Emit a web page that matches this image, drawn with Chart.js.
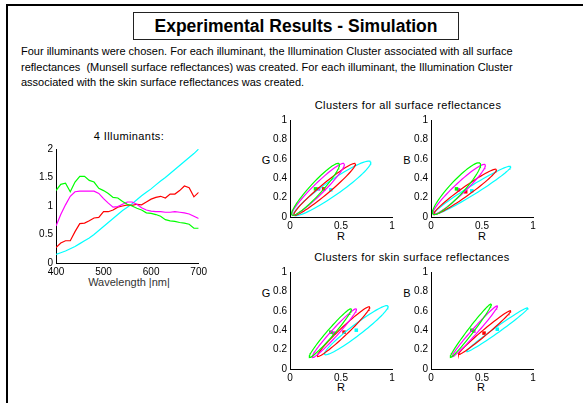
<!DOCTYPE html>
<html>
<head>
<meta charset="utf-8">
<script src="https://cdn.jsdelivr.net/npm/chart.js@4.4.1/dist/chart.umd.min.js"></script>
<style>
  body { margin: 0; width: 583px; height: 403px; position: relative; overflow: hidden; background: #fff;
         font-family: "Liberation Sans", Arial, sans-serif; color: #000; }
  .abs { position: absolute; }
  .lbl { position: absolute; font-size: 11px; white-space: nowrap; transform: translate(-50%, -50%); }
  canvas { position: absolute; }
</style>
</head>
<body>
<div class="abs" style="left:6px;top:4px;width:577px;height:2px;background:#000"></div>
<div class="abs" style="left:6px;top:4px;width:2px;height:399px;background:#000"></div>

<div class="abs" style="left:133px;top:12px;width:324px;height:26px;border:1px solid #222;
     font-weight:bold;font-size:17.5px;text-align:center;line-height:26px">Experimental Results - Simulation</div>

<div class="abs" style="left:21px;top:44px;font-size:11px;line-height:15.5px;white-space:nowrap">
Four illuminants were chosen. For each illuminant, the Illumination Cluster associated with all surface<br>
reflectances&nbsp; (Munsell surface reflectances) was created. For each illuminant, the Illumination Cluster<br>
associated with the skin surface reflectances was created.
</div>

<div class="lbl" style="left:129px;top:136px;letter-spacing:0.4px">4 Illuminants:</div>
<div class="lbl" style="left:129px;top:282px;color:#333">Wavelength |nm|</div>

<div class="lbl" style="left:408px;top:105px;letter-spacing:0.4px">Clusters for all surface reflectances</div>
<div class="lbl" style="left:412px;top:257px;letter-spacing:0.4px">Clusters for skin surface reflectances</div>

<div class="lbl" style="left:266px;top:160px">G</div>
<div class="lbl" style="left:407px;top:160px">B</div>
<div class="lbl" style="left:341px;top:236px">R</div>
<div class="lbl" style="left:482px;top:236px">R</div>
<div class="lbl" style="left:266px;top:293px">G</div>
<div class="lbl" style="left:407px;top:293px">B</div>
<div class="lbl" style="left:341px;top:387px">R</div>
<div class="lbl" style="left:481px;top:387px">R</div>

<canvas id="spectra" width="180" height="137" style="left:30px;top:140px"></canvas>
<canvas id="allRG" width="136" height="120" style="left:266px;top:111px"></canvas>
<canvas id="allRB" width="136" height="120" style="left:407px;top:111px"></canvas>
<canvas id="skinRG" width="136" height="120" style="left:266px;top:263px"></canvas>
<canvas id="skinRB" width="136" height="120" style="left:407px;top:263px"></canvas>

<script>
// illuminant spectra, 400..700 nm
var wavelengths = [400,410,420,430,440,450,460,470,480,490,500,510,520,530,540,550,560,570,580,590,600,610,620,630,640,650,660,670,680,690,700];
var greenIllum = [1.27,1.38,1.40,1.25,1.42,1.52,1.52,1.45,1.42,1.31,1.27,1.22,1.15,1.14,1.08,1.03,1.00,0.96,0.93,0.88,0.87,0.85,0.82,0.76,0.74,0.73,0.71,0.70,0.68,0.61,0.61];
var magentaIllum = [0.65,0.85,1.02,1.17,1.25,1.26,1.26,1.26,1.26,1.22,1.13,1.05,0.98,0.99,1.03,1.07,1.07,1.03,0.97,0.93,0.91,0.90,0.90,0.89,0.89,0.90,0.89,0.88,0.86,0.82,0.78];
var redIllum = [0.27,0.35,0.39,0.39,0.55,0.69,0.70,0.74,0.79,0.80,0.90,0.90,0.93,0.98,1.00,1.02,1.01,1.03,1.02,1.07,1.12,1.15,1.17,1.14,1.21,1.21,1.27,1.35,1.32,1.16,1.24];
var cyanIllum = [0.15,0.18,0.21,0.25,0.29,0.34,0.39,0.44,0.50,0.57,0.64,0.71,0.78,0.85,0.92,0.98,1.04,1.11,1.18,1.24,1.30,1.37,1.44,1.50,1.57,1.64,1.71,1.78,1.85,1.92,2.00];

var colors = ['#00ff00', '#ff00ff', '#ff0000', '#00ffff'];

// cluster ellipses: [x1, y1, x2, y2, halfWidth] (ends of the long axis), order green, magenta, red, cyan
var allRG = [[0.02,0.02,0.48,0.55,0.06],[0.02,0.02,0.53,0.55,0.055],[0.04,0.02,0.64,0.55,0.05],[0.04,0.02,0.79,0.57,0.075]];
var allRGCentres = [[0.25,0.29],[0.28,0.29],[0.33,0.29],[0.40,0.28]];
var allRB = [[0.02,0.03,0.48,0.555,0.07],[0.02,0.03,0.53,0.54,0.055],[0.03,0.03,0.64,0.49,0.045],[0.03,0.03,0.78,0.52,0.045]];
var allRBCentres = [[0.25,0.29],[0.27,0.28],[0.34,0.26],[0.40,0.27]];
var skinRG = [[0.19,0.12,0.60,0.62,0.035],[0.22,0.12,0.65,0.62,0.035],[0.27,0.13,0.78,0.64,0.04],[0.34,0.15,0.96,0.65,0.055]];
var skinRGCentres = [[0.40,0.38],[0.43,0.37],[0.53,0.38],[0.65,0.40]];
var skinRB = [[0.19,0.12,0.59,0.67,0.028],[0.21,0.13,0.65,0.65,0.028],[0.27,0.15,0.78,0.60,0.028],[0.35,0.18,0.95,0.63,0.028]];
var skinRBCentres = [[0.40,0.40],[0.42,0.39],[0.52,0.37],[0.65,0.41]];

Chart.defaults.font.family = '"Liberation Sans", Arial, sans-serif';
Chart.defaults.font.size = 10;
Chart.defaults.color = '#000';

function axis(min, max, step, fitKey, fitVal) {
    return {
        type: 'linear', min: min, max: max,
        ticks: { stepSize: step, padding: 3, color: '#000', maxRotation: 0, minRotation: 0, autoSkip: false,
                 callback: function (v) { return String(Math.round(v * 100) / 100); } },
        grid: { display: false, drawTicks: false, tickLength: 0 },
        border: { display: true, color: '#000', width: 1 },
        afterFit: function (s) { s[fitKey] = fitVal; }
    };
}

function toPoints(ys) {
    return wavelengths.map(function (w, i) { return { x: w, y: ys[i] }; });
}

// 4 Illuminants
new Chart(document.getElementById('spectra'), {
    type: 'line',
    data: {
        datasets: [greenIllum, magentaIllum, redIllum, cyanIllum].map(function (ys, i) {
            return { data: toPoints(ys), borderColor: colors[i], borderWidth: 1.2, pointRadius: 0, tension: 0 };
        })
    },
    options: {
        responsive: false, animation: false,
        layout: { padding: { top: 7, right: 9, left: 0, bottom: 0 } },
        plugins: { legend: { display: false }, tooltip: { enabled: false } },
        scales: {
            x: axis(400, 700, 100, 'height', 14),
            y: axis(0, 2, 0.5, 'width', 26)
        }
    }
});

function ellipsePoints(e) {
    var cx = (e[0] + e[2]) / 2, cy = (e[1] + e[3]) / 2;
    var dx = (e[2] - e[0]) / 2, dy = (e[3] - e[1]) / 2;
    var a = Math.sqrt(dx * dx + dy * dy);
    var ux = dx / a, uy = dy / a;
    var pts = [];
    for (var k = 0; k <= 72; k++) {
        var t = k / 72 * 2 * Math.PI;
        var c = Math.cos(t) * a, s = Math.sin(t) * e[4];
        pts.push({ x: cx + c * ux - s * uy, y: cy + c * uy + s * ux });
    }
    return pts;
}

function makeCluster(id, ellipses, centres) {
    var sets = ellipses.map(function (e, i) {
        return { data: ellipsePoints(e), showLine: true, borderColor: colors[i], borderWidth: 1.2,
                 pointRadius: 0, tension: 0, fill: false };
    });
    centres.forEach(function (c, i) {
        sets.push({ data: [{ x: c[0], y: c[1] }], pointStyle: 'rect', pointRadius: 2.5,
                    backgroundColor: colors[i], borderColor: colors[i], borderWidth: 0 });
    });
    new Chart(document.getElementById(id), {
        type: 'scatter',
        data: { datasets: sets },
        options: {
            responsive: false, animation: false,
            layout: { padding: { top: 6, right: 10, left: 0, bottom: 0 } },
            plugins: { legend: { display: false }, tooltip: { enabled: false } },
            scales: {
                x: axis(0, 1, 0.5, 'height', 14),
                y: axis(0, 1, 0.2, 'width', 24)
            }
        }
    });
}

makeCluster('allRG', allRG, allRGCentres);
makeCluster('allRB', allRB, allRBCentres);
makeCluster('skinRG', skinRG, skinRGCentres);
makeCluster('skinRB', skinRB, skinRBCentres);
</script>
</body>
</html>
